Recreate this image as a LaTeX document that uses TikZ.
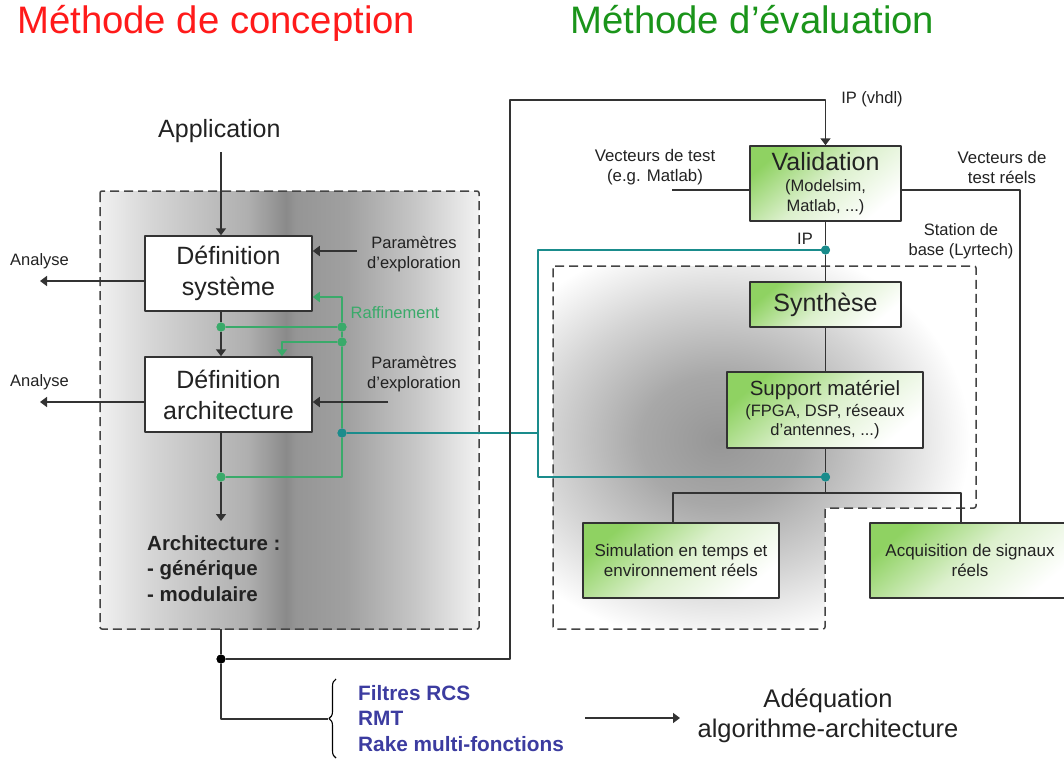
\documentclass[tikz,border=0pt]{standalone}
\usepackage{fontspec}
\setmainfont{Liberation Sans}
\usetikzlibrary{arrows.meta,decorations.pathreplacing}
\definecolor{txt}{HTML}{222222}
\definecolor{ln}{HTML}{333333}
\definecolor{dgray}{HTML}{444444}
\definecolor{gline}{HTML}{3AAA6A}
\definecolor{tealc}{HTML}{1A8C8C}
\definecolor{titr}{HTML}{FF1A1A}
\definecolor{titg}{HTML}{1A941A}
\definecolor{bluet}{HTML}{3C3CA0}
\definecolor{gbox}{HTML}{8FD262}
\definecolor{gmid}{HTML}{DCF0CD}
\definecolor{lg0}{HTML}{F0F0F0}
\definecolor{lg1}{HTML}{D6D6D6}
\definecolor{lg2}{HTML}{AFAFAF}
\definecolor{lg3}{HTML}{8A8A8A}
\definecolor{lg3b}{HTML}{959595}
\definecolor{lg4}{HTML}{A0A0A0}
\definecolor{lg5}{HTML}{C6C6C6}
\definecolor{lg6}{HTML}{F2F2F2}
\definecolor{rr0}{HTML}{969696}
\definecolor{rr1}{HTML}{A8A8A8}
\definecolor{rr2}{HTML}{D4D4D4}
\definecolor{rr3}{HTML}{FFFFFF}
\pgfdeclarehorizontalshading{leftgrad}{100bp}{color(0bp)=(lg0); color(25bp)=(lg0); color(31.6bp)=(lg1); color(44.5bp)=(lg2); color(49.6bp)=(lg3); color(50.8bp)=(lg3b); color(57.5bp)=(lg4); color(66.5bp)=(lg5); color(75bp)=(lg6); color(100bp)=(lg6)}
\pgfdeclareradialshading{rightrad}{\pgfpoint{0bp}{0bp}}{color(0bp)=(rr0); color(8bp)=(rr1); color(17bp)=(rr2); color(25bp)=(rr3); color(50bp)=(rr3)}
\newcommand\myfs[2]{\fontsize{#1}{#2}\selectfont}
\tikzset{
  lbl/.style={text=txt, inner sep=0pt, align=center},
  wbox/.style={draw=ln, line width=1.5pt, fill=white, minimum width=167pt, minimum height=75pt, inner sep=0pt, align=center, text=txt, font=\myfs{25}{31}},
  gbx/.style={draw=ln, line width=1.5pt, top color=gbox, bottom color=white, middle color=gmid, shading angle=40, inner sep=0pt, align=center, text=txt},
  conn/.style={draw=ln, line width=1.5pt},
  arr/.style={conn, -{Triangle[width=10pt,length=7pt]}},
  gconn/.style={draw=gline, line width=1.5pt},
  garr/.style={gconn, -{Triangle[width=10pt,length=7pt]}},
  tconn/.style={draw=tealc, line width=1.5pt},
  jdot/.style={circle, inner sep=0pt, minimum size=9pt},
  grpdash/.style={draw=dgray, line width=1.5pt, dash pattern=on 9pt off 5pt, rounded corners=2pt},
}
\begin{document}
\begin{tikzpicture}[x=1pt,y=-1pt,line join=round]
\useasboundingbox (0,0) rectangle (1064,758);

% titles
\node[anchor=base west, inner sep=0pt, text=titr, font=\myfs{38.3}{40}] (t1) at (17,33) {Méthode de conception};
\node[anchor=base west, inner sep=0pt, text=titg, font=\myfs{38.3}{40}] (t2t) at (570,33) {Méthode d’évaluation};

% group backgrounds
\shade[shading=leftgrad] (100,191) rectangle (479,629);
\draw[grpdash] (100,191) rectangle (479,629);
\begin{scope}
\clip (553,266) -- (976,266) -- (976,508) -- (825,508) -- (825,629) -- (553,629) -- cycle;
\shade[shading=rightrad] (720,440) ellipse [x radius=250, y radius=205];
\end{scope}
\draw[grpdash] (553,266) -- (976,266) -- (976,508) -- (825,508) -- (825,629) -- (553,629) -- cycle;

% left nodes
\coordinate (cx) at (221,0);
\node[lbl, anchor=base west, font=\myfs{25}{30}] (app) at (158,137) {Application};
\node[wbox] (ds) at (228.5,273.5) {Définition\\système};
\node[wbox] (da) at (228.5,394.5) {Définition\\architecture};
\node[lbl, anchor=base west, font=\myfs{16.5}{20}] (an1) at (10,265) {Analyse};
\node[lbl, anchor=base west, font=\myfs{16.5}{20}] (an2) at (10,386) {Analyse};
\node[lbl, font=\myfs{16.5}{20}] (pe1) at (414,254.5) {Paramètres\\d’exploration};
\node[lbl, font=\myfs{16.5}{20}] (pe2) at (414,374) {Paramètres\\d’exploration};
\node[lbl, anchor=base, text=gline, font=\myfs{16.5}{20}] (raf) at (395,318) {Raffinement};
\node[lbl, anchor=north west, align=left, font=\bfseries\myfs{20.5}{25.5}] (arch) at (147,535) {Architecture :\\- générique\\- modulaire};

% right nodes
\node[gbx, minimum width=151pt, minimum height=75pt, font=\myfs{16.5}{20}] (val) at (825.5,183.5) {{\myfs{25}{25}Validation}\\[1pt](Modelsim,\\Matlab, ...)};
\node[gbx, minimum width=151pt, minimum height=45pt, font=\myfs{25}{28}] (syn) at (825.5,304.5) {Synthèse};
\node[gbx, minimum width=196pt, minimum height=76pt, font=\myfs{16.5}{19}] (sup) at (825,410) {{\myfs{20.5}{20}Support matériel}\\[2pt](FPGA, DSP, réseaux\\d'antennes, ...)};
\node[gbx, minimum width=196pt, minimum height=75pt, font=\myfs{17}{20}] (sim) at (681,560.5) {Simulation en temps et\\environnement réels};
\node[gbx, minimum width=200pt, minimum height=75pt, font=\myfs{17}{20}] (acq) at (970,560.5) {Acquisition de signaux\\réels};
\node[lbl, font=\myfs{16.8}{20}] (vt1) at (655,167) {Vecteurs de test\\(e.g. Matlab)};
\node[lbl, font=\myfs{16.8}{20}] (vt2) at (1002,167) {Vecteurs de\\test réels};
\node[lbl, font=\myfs{16.5}{20}] (ipv) at (872,99) {IP (vhdl)};
\node[lbl, font=\myfs{16.5}{20}] (ip) at (805,239) {IP};
\node[lbl, font=\myfs{16.5}{20}] (stb) at (961,241) {Station de\\base (Lyrtech)};

% bottom nodes
\node[lbl, anchor=north west, align=left, text=bluet, font=\bfseries\myfs{20.8}{25.5}] (rcs) at (358,685) {Filtres RCS\\RMT\\Rake multi-fonctions};
\node[lbl, font=\myfs{25.5}{30}] (adq) at (828,716) {Adéquation\\algorithme-architecture};

% junction dots
\node[jdot, fill=gline] (g1) at (221,327) {};
\node[jdot, fill=gline] (g2) at (342,327) {};
\node[jdot, fill=gline] (g3) at (342,342) {};
\node[jdot, fill=gline] (g4) at (221,477) {};
\node[jdot, fill=tealc] (tt1) at (342,433) {};
\node[jdot, fill=tealc] (tt2) at (825.5,250) {};
\node[jdot, fill=tealc] (tt3) at (825.5,477) {};
\node[jdot, fill=black] (bj) at (221,659) {};

% coordinates
\coordinate (p1s) at (357,251);
\coordinate (p2s) at (388,402);
\coordinate (a1e) at (40,281);
\coordinate (a2e) at (40,402);
\coordinate (archtip) at (221,521);
\coordinate (lb) at (221,629);
\coordinate (bl) at (221,719);
\coordinate (brt) at (336,679);
\coordinate (brb) at (336,758);
\coordinate (brtip) at (328,719);
\coordinate (k1) at (510,659);
\coordinate (k2) at (510,100);
\coordinate (vtl) at (672,190);
\coordinate (vtr) at (1020,190);
\coordinate (hb) at (825.5,493);
\coordinate (hl) at (673,493);
\coordinate (hr) at (961,493);
\coordinate (tc1) at (538,433);
\coordinate (tc2) at (538,250);
\coordinate (tc3) at (538,477);
\coordinate (gr1) at (342,297);
\coordinate (gbm) at (342,477);
\coordinate (gl) at (282,342);
\coordinate (r1) at (585,718);
\coordinate (r2) at (680,718);

% teal connectors
\draw[tconn] (tt2) -- (tc2) -- (tc3) -- (tt3);
\draw[tconn] (tt1) -- (tc1);

% green connectors
\draw[gconn] (g1) -- (g2);
\draw[garr] (g2) -- (gr1) -- (ds.east |- gr1);
\draw[gconn] (g2) -- (g3) -- (tt1) -- (gbm) -- (g4);
\draw[garr] (g3) -- (gl) -- (gl |- da.north);

% black connectors left
\draw[arr] ([yshift=-10pt]app.south -| cx) -- (ds.north -| cx);
\draw[conn] (ds.south -| cx) -- (g1);
\draw[arr] (g1) -- (da.north -| cx);
\draw[conn] (da.south -| cx) -- (g4);
\draw[arr] (g4) -- (archtip);
\draw[arr] (p1s) -- (ds.east |- p1s);
\draw[arr] (p2s) -- (da.east |- p2s);
\draw[arr] (ds.west |- a1e) -- (a1e);
\draw[arr] (da.west |- a2e) -- (a2e);

% black connectors bottom
\draw[conn] (lb) -- (bj) -- (bl) -- (brtip);
\draw[arr] (bj) -- (k1) -- (k2) -- (val.north |- k2) -- (val.north);
\draw[line width=1.1pt, draw=black, decorate, decoration={brace, amplitude=7pt}] (brb) -- (brt);
\draw[arr] (r1) -- (r2);

% black connectors right
\draw[conn] (vtl) -- (val.west |- vtl);
\draw[conn] (val.east |- vtr) -- (vtr) -- (acq.north -| vtr);
\draw[conn] (val.south) -- (tt2) -- (syn.north);
\draw[conn] (syn.south) -- (sup.north -| syn.south);
\draw[conn] (sup.south -| tt3) -- (tt3) -- (hb);
\draw[conn] (sim.north -| hl) -- (hl) -- (hr) -- (acq.north -| hr);

% redraw dots on top
\node[jdot, fill=gline] at (g1) {};
\node[jdot, fill=gline] at (g2) {};
\node[jdot, fill=gline] at (g3) {};
\node[jdot, fill=gline] at (g4) {};
\node[jdot, fill=tealc] at (tt1) {};
\node[jdot, fill=tealc] at (tt2) {};
\node[jdot, fill=tealc] at (tt3) {};
\node[jdot, fill=black] at (bj) {};
\end{tikzpicture}
\end{document}
